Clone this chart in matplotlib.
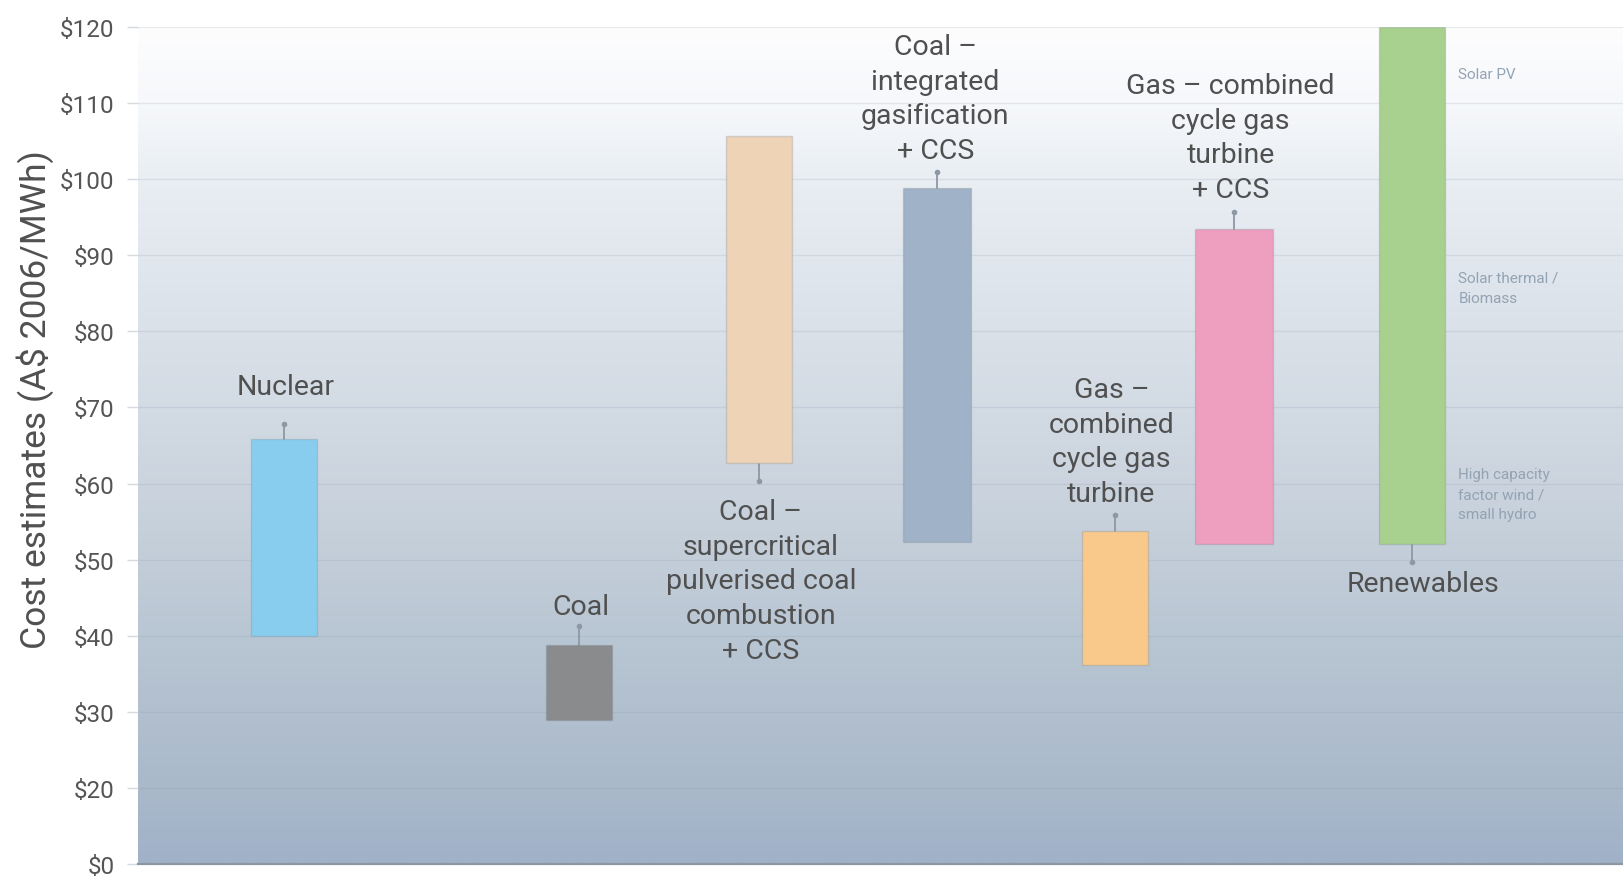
import matplotlib.pyplot as plt
import numpy as np
from matplotlib.colors import LinearSegmentedColormap

plt.rcParams['font.family'] = ['Roboto', 'DejaVu Sans']

# cost ranges per technology, A$ 2006/MWh
techs = ['Nuclear',
         'Coal',
         'Coal \u2013\nsupercritical\npulverised coal\ncombustion\n+ CCS',
         'Coal \u2013\nintegrated\ngasification\n+ CCS',
         'Gas \u2013\ncombined\ncycle gas\nturbine',
         'Gas \u2013 combined\ncycle gas\nturbine\n+ CCS',
         'Renewables']
cost_low = [40.0, 28.9, 62.7, 52.3, 36.2, 52.0, 52.0]
cost_high = [65.9, 38.8, 105.7, 98.9, 53.8, 93.4, 120.0]
whisker_end = [67.8, 41.3, 60.3, 101.0, 55.9, 95.7, 49.7]
bar_colors = ['#88cdee', '#8a8b8d', '#eed3b6', '#a0b2c7',
              '#f8c98a', '#ee9ebf', '#a8d08e']

renew_notes = ['Solar PV', 'Solar thermal /\nBiomass',
               'High capacity\nfactor wind /\nsmall hydro']
renew_note_y = [113.8, 85.7, 58.6]

# layout
xpos = [0.82, 2.48, 3.49, 4.49, 5.49, 6.16, 7.16]
widths = [0.37, 0.37, 0.37, 0.38, 0.37, 0.44, 0.37]
label_x = [0.83, 2.49, 3.50, 4.48, 5.47, 6.14, 7.22]
label_y = [72.7, 43.8, 47.2, 110.6, 65.5, 105.5, 46.8]
XMAX = 8.35
YMIN, YMAX = 10, 120

fig = plt.figure(figsize=(16.24, 8.78), dpi=100)
ax = fig.add_axes([138 / 1624, 13 / 878, 1486 / 1624, 837 / 878])

# background gradient, pale at the top, steel blue at the base
stops = [(0.0, (161, 177, 200)), (0.09, (170, 185, 202)),
         (0.27, (185, 198, 211)), (0.45, (203, 212, 222)),
         (0.64, (218, 225, 233)), (0.82, (233, 238, 243)),
         (0.91, (246, 248, 251)), (1.0, (253, 253, 254))]
cmap = LinearSegmentedColormap.from_list(
    'bg', [(p, tuple(c / 255 for c in rgb)) for p, rgb in stops])
grad = np.linspace(0, 1, 400).reshape(-1, 1)
ax.imshow(grad, extent=[0, XMAX, YMIN, YMAX], origin='lower',
          aspect='auto', cmap=cmap, zorder=0)

ax.bar(xpos, np.subtract(cost_high, cost_low), bottom=cost_low,
       width=widths, color=bar_colors, edgecolor=(0.45, 0.5, 0.55, 0.25),
       linewidth=1, zorder=3)

for x, lo, hi, w in zip(xpos, cost_low, cost_high, whisker_end):
    start = hi if w > hi else lo
    ax.plot([x, x], [start, w], color='#8c98a4', lw=1.3, zorder=2)
    ax.plot(x, w, 'o', color='#8c98a4', ms=3, zorder=2)

for x, y, t in zip(label_x, label_y, techs):
    ax.text(x, y, t, ha='center', va='center', fontsize=20.5,
            color='#505050', linespacing=1.36, zorder=4)

for y, t in zip(renew_note_y, renew_notes):
    ax.text(7.42, y, t, ha='left', va='center', fontsize=11,
            color='#93a3b3', linespacing=1.55, zorder=4)

ax.set_xlim(0, XMAX)
ax.set_ylim(YMIN, YMAX)
ticks = list(range(10, 121, 10))
ax.set_yticks(ticks)
ax.set_yticklabels(['$0'] + [f'${v}' for v in ticks[1:]])
ax.set_xticks([])
ax.yaxis.grid(True, color='#7f8f9e', alpha=0.16, lw=1)
ax.set_axisbelow(True)
ax.tick_params(axis='y', length=8, width=1, color='#d5dade', pad=9,
               labelsize=17.5, labelcolor='#555555')

for side in ['top', 'right', 'left']:
    ax.spines[side].set_visible(False)
ax.spines['bottom'].set_color('#8d97a2')
ax.spines['bottom'].set_linewidth(1.6)

fig.text(35 / 1624, 1 - 400 / 878, 'Cost estimates (A$ 2006/MWh)',
         rotation=90, ha='center', va='center', fontsize=25.5,
         color='#505050')

fig.savefig('out.png', dpi=100, facecolor='white')
